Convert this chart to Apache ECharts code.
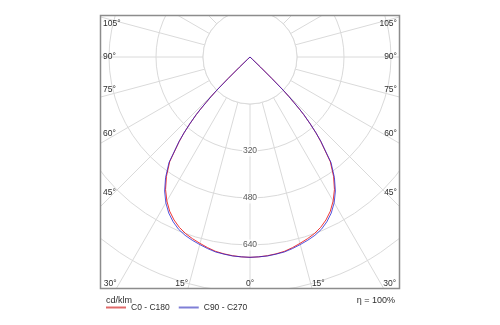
<!DOCTYPE html>
<html>
<head>
<meta charset="utf-8">
<script src="https://cdn.jsdelivr.net/npm/echarts@6/dist/echarts.min.js"></script>
<style>
  html, body { margin: 0; padding: 0; background: #fff; }
  #chart { width: 500px; height: 325px; }
</style>
</head>
<body>
<div id="chart"></div>
<script>
// Gamma angles (degrees from nadir) and luminous intensity in cd/klm
const gammaAngles = [0, 2.5, 5, 7.5, 10, 12.5, 15, 17.5, 20, 22.5, 25, 27.5, 30, 32.5, 35, 37.5, 40, 41, 42, 43, 43.5, 44, 44.5, 45, 45.5, 46, 46.5, 47, 50, 60, 70, 80, 90, 120, 150, 180];
const intensityC0C180 = [682, 681, 679, 676, 672, 665, 657, 649, 640, 628, 612, 592, 566, 535, 496, 449, 374, 342, 306, 268, 244, 215, 189, 160, 105, 50, 12, 0, 0, 0, 0, 0, 0, 0, 0, 0];
const intensityC90C270 = [682, 681, 680, 677, 674, 668, 661, 654, 646, 635, 619, 599, 573, 541, 501, 453, 376, 343, 307, 269, 245, 216, 190, 160, 105, 50, 12, 0, 0, 0, 0, 0, 0, 0, 0, 0];
const seriesNames = ['C0 - C180', 'C90 - C270'];
const radialTickLabels = [320, 480, 640];
const angleTickLabels = [0, 15, 30, 45, 60, 75, 90, 105];
const unitText = 'cd/klm';
const efficiencyText = 'η = 100%';

// layout
const CX = 250, CY = 57, RADIUS = 282, RMAX = 960, RSTEP = 160;
const BOX = { x: 100, y: 15, w: 300, h: 274 };
const FONT = 'Liberation Sans';
const TEXT_COLOR = '#2e2e2e';
const GRID_COLOR = '#dadada';

// both half-planes share the same profile, mirrored about nadir
function planeData(values) {
  const left = [];
  for (let i = gammaAngles.length - 1; i >= 0; i--) left.push([values[i], -gammaAngles[i]]);
  const right = gammaAngles.map((g, i) => [values[i], g]);
  return left.concat(right.slice(1));
}

// angle label placed where its spoke meets the frame
function angleLabel(deg, side) {
  const a = deg * Math.PI / 180;
  const s = Math.sin(a), c = Math.cos(a);
  const base = { type: 'text', z: 30, silent: true,
    style: { text: deg + '°', fontSize: 8.5, fontFamily: FONT, fill: TEXT_COLOR } };
  if (s > 1e-6) {
    const edgeX = side < 0 ? BOX.x + 10 : BOX.x + BOX.w - 10;
    const t = Math.abs(CX - edgeX) / s;
    const y = CY + t * c;
    if (y < BOX.y + BOX.h - 12) {
      base.x = side < 0 ? BOX.x + 3 : BOX.x + BOX.w - 3;
      base.y = y;
      base.style.align = side < 0 ? 'left' : 'right';
      base.style.verticalAlign = deg < 90 ? 'bottom' : (deg === 90 ? 'middle' : 'top');
      return base;
    }
  }
  const bottom = BOX.y + BOX.h - 1;
  const t = (bottom - CY) / c;
  base.x = CX + side * t * s;
  base.y = bottom;
  base.style.align = deg === 0 ? 'center' : (side < 0 ? 'right' : 'left');
  base.style.verticalAlign = 'bottom';
  return base;
}

const chart = echarts.init(document.getElementById('chart'), null, { renderer: 'canvas' });

const innerR = RSTEP / RMAX * RADIUS;
const graphics = [
  // clear core around the origin, keeping the first ring
  { type: 'circle', z: 1, silent: true, shape: { cx: CX, cy: CY, r: innerR },
    style: { fill: '#fff', stroke: GRID_COLOR, lineWidth: 1 } },
  // white margins outside the plot frame
  { type: 'rect', z: 20, silent: true, shape: { x: 0, y: 0, width: 500, height: BOX.y }, style: { fill: '#fff' } },
  { type: 'rect', z: 20, silent: true, shape: { x: 0, y: BOX.y + BOX.h, width: 500, height: 325 }, style: { fill: '#fff' } },
  { type: 'rect', z: 20, silent: true, shape: { x: 0, y: 0, width: BOX.x, height: 325 }, style: { fill: '#fff' } },
  { type: 'rect', z: 20, silent: true, shape: { x: BOX.x + BOX.w, y: 0, width: 100, height: 325 }, style: { fill: '#fff' } },
  // frame
  { type: 'rect', z: 25, silent: true, shape: { x: BOX.x + 0.5, y: BOX.y + 0.5, width: BOX.w - 1, height: BOX.h - 1 },
    style: { fill: 'none', stroke: '#8c8c8c', lineWidth: 1.5 } },
  { type: 'text', z: 30, silent: true, x: 106, y: 301,
    style: { text: unitText, fontSize: 9, fontFamily: FONT, fill: TEXT_COLOR, align: 'left', verticalAlign: 'middle' } },
  { type: 'text', z: 30, silent: true, x: 395, y: 301,
    style: { text: efficiencyText, fontSize: 9, fontFamily: FONT, fill: TEXT_COLOR, align: 'right', verticalAlign: 'middle' } }
];
angleTickLabels.forEach(d => {
  if (d === 0) graphics.push(angleLabel(0, 1));
  else { graphics.push(angleLabel(d, -1)); graphics.push(angleLabel(d, 1)); }
});

chart.setOption({
  animation: false,
  backgroundColor: '#fff',
  polar: { center: [CX, CY], radius: RADIUS },
  angleAxis: {
    type: 'value', min: -180, max: 180, interval: 15,
    startAngle: 90, clockwise: false, z: 0,
    axisLine: { show: false }, axisTick: { show: false }, axisLabel: { show: false },
    splitLine: { show: true, lineStyle: { color: GRID_COLOR, width: 1 } }
  },
  radiusAxis: {
    type: 'value', min: 0, max: RMAX, interval: RSTEP, z: 0,
    axisLine: { show: false }, axisTick: { show: false }, axisLabel: { show: false },
    splitLine: { show: true, lineStyle: { color: GRID_COLOR, width: 1 } }
  },
  legend: {
    z: 30,
    left: 106, top: 303, padding: 0,
    itemWidth: 20, itemHeight: 2, itemGap: 9,
    icon: 'rect',
    textStyle: { fontSize: 8.5, fontFamily: FONT, color: TEXT_COLOR },
    data: [
      { name: seriesNames[0], itemStyle: { color: '#e06a6a' } },
      { name: seriesNames[1], itemStyle: { color: '#7f7fd6' } }
    ],
    selectedMode: false
  },
  series: [
    {
      name: seriesNames[0], type: 'line', coordinateSystem: 'polar',
      data: planeData(intensityC0C180), showSymbol: false, symbol: 'none', z: 2,
      lineStyle: { color: 'rgba(235,20,20,0.85)', width: 1 },
      itemStyle: { color: '#e06a6a' }
    },
    {
      name: seriesNames[1], type: 'line', coordinateSystem: 'polar',
      data: planeData(intensityC90C270), showSymbol: false, symbol: 'none', z: 3,
      lineStyle: { color: 'rgba(30,30,210,0.75)', width: 1 },
      itemStyle: { color: '#7f7fd6' }
    },
    {
      type: 'scatter', coordinateSystem: 'polar', z: 4, silent: true,
      symbolSize: 0,
      data: radialTickLabels.map(v => [v, 0]),
      label: {
        show: true, position: 'inside',
        formatter: p => String(p.value[0]),
        fontSize: 8.5, fontFamily: FONT, color: TEXT_COLOR,
        backgroundColor: '#fff', padding: [1, 1]
      }
    }
  ],
  graphic: { elements: graphics }
});
</script>
</body>
</html>
